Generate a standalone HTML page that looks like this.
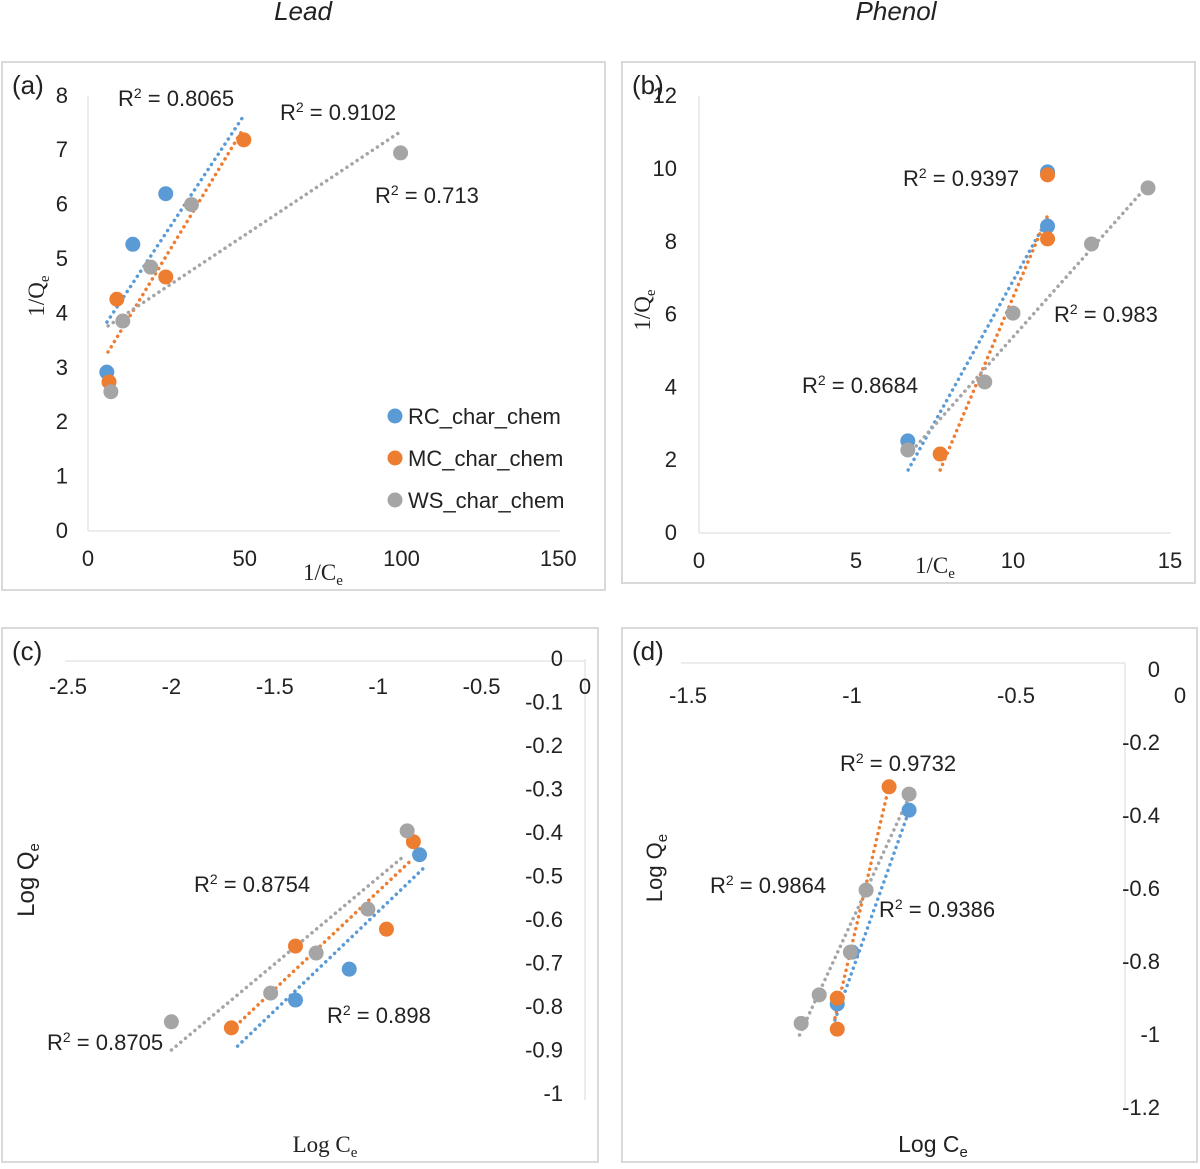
<!DOCTYPE html>
<html><head><meta charset="utf-8"><style>
body{margin:0;background:#fff}
svg text{fill:#222}
</style></head><body>
<svg id="c" width="1200" height="1164" viewBox="0 0 1200 1164" style="font-family:'Liberation Sans',Arial,sans-serif">
<text x="303" y="20" font-size="26" font-style="italic" text-anchor="middle">Lead</text>
<text x="896" y="20" font-size="26" font-style="italic" text-anchor="middle">Phenol</text>
</svg>
<script>
const colors=['#5b9bd5','#ed7d31','#a5a5a5'];
const seriesNames=['RC_char_chem','MC_char_chem','WS_char_chem'];
// Panel a
const aRCx=[6,14.3,24.8], aRCy=[2.92,5.27,6.2];
const aMCx=[6.7,9.2,24.8,49.7], aMCy=[2.74,4.26,4.67,7.19];
const aWSx=[7.3,11.1,20,33,99.7], aWSy=[2.56,3.86,4.85,6.0,6.95];
const aFits=[[6.05,3.84,49.4,7.61],[6.4,3.29,49.7,7.41],[6.4,3.77,99.4,7.33]];
const aXTicks=[0,50,100,150], aYTicks=[0,1,2,3,4,5,6,7,8];
// Panel b
const bRCx=[6.65,11.1,11.1], bRCy=[2.53,8.43,9.92];
const bMCx=[7.68,11.1,11.1], bMCy=[2.17,8.08,9.84];
const bWSx=[6.65,9.1,10,12.5,14.3], bWSy=[2.28,4.15,6.04,7.94,9.48];
const bFits=[[6.66,1.73,11.11,8.65],[7.68,1.73,11.11,8.74],[6.66,2.14,14.3,9.56]];
const bXTicks=[0,5,10,15], bYTicks=[0,2,4,6,8,10,12];
// Panel c
const cRCx=[-1.40,-1.14,-0.80], cRCy=[-0.784,-0.713,-0.45];
const cMCx=[-1.71,-1.40,-0.96,-0.83], cMCy=[-0.848,-0.660,-0.621,-0.42];
const cWSx=[-2.0,-1.52,-1.30,-1.05,-0.86], cWSy=[-0.834,-0.768,-0.676,-0.575,-0.395];
const cFits=[[-1.68,-0.890,-0.77,-0.476],[-1.71,-0.853,-0.85,-0.467],[-2.0,-0.899,-0.87,-0.451]];
const cXTicks=[-2.5,-2,-1.5,-1,-0.5,0], cYTicks=[0,-0.1,-0.2,-0.3,-0.4,-0.5,-0.6,-0.7,-0.8,-0.9,-1];
// Panel d
const dRCx=[-1.045,-1.0,-0.826], dRCy=[-0.915,-0.773,-0.384];
const dMCx=[-1.045,-1.045,-0.887], dMCy=[-0.899,-0.984,-0.32];
const dWSx=[-1.155,-1.1,-1.005,-0.957,-0.826], dWSy=[-0.968,-0.89,-0.773,-0.603,-0.34];
const dFits=[[-1.052,-0.959,-0.823,-0.378],[-1.052,-0.953,-0.89,-0.329],[-1.16,-1.0,-0.823,-0.342]];
const dXTicks=[-1.5,-1,-0.5,0], dYTicks=[0,-0.2,-0.4,-0.6,-0.8,-1,-1.2];

const svg=document.getElementById('c');
const NS='http://www.w3.org/2000/svg';
function mk(tag,attrs,parent){const e=document.createElementNS(NS,tag);for(const k in attrs)e.setAttribute(k,attrs[k]);(parent||svg).appendChild(e);return e;}
function txt(x,y,s,size,anchor,parent){const t=mk('text',{x:x,y:y,'font-size':size,'text-anchor':anchor||'middle'},parent);t.textContent=s;return t;}
function r2(x,y,val,parent){const t=mk('text',{x:x,y:y,'font-size':22},parent);t.innerHTML='R<tspan dy="-8" font-size="14">2</tspan><tspan dy="8"> = '+val+'</tspan>';

}

function panel(o){
  const g=mk('g',{});
  
  
  const fr=mk('rect',{x:o.box[0],y:o.box[1],width:o.box[2],height:o.box[3],fill:'#fff',stroke:'#d9d9d9','stroke-width':2},g);
  
  
  const X=v=>o.x0+(v-o.xv0)*o.xs, Y=v=>o.y0-(v-o.yv0)*o.ys;
  mk('line',{x1:o.axX[0],y1:o.axX[1],x2:o.axX[2],y2:o.axX[1],stroke:'#e6e6e6','stroke-width':1.5},g);
  mk('line',{x1:o.axY[0],y1:o.axY[1],x2:o.axY[0],y2:o.axY[2],stroke:'#e6e6e6','stroke-width':1.5},g);
  o.xt.forEach(v=>{const t=txt(X(v),o.xly,String(v),22,'middle',g);
    
    });
  o.yt.forEach(v=>{const t=txt(o.ylx,Y(v)+7,String(v),22,'end',g);
    
    });
  o.fits.forEach((f,i)=>{const l=mk('line',{x1:X(f[0]),y1:Y(f[1]),x2:X(f[2]),y2:Y(f[3]),stroke:colors[i],'stroke-width':3.5,'stroke-dasharray':'0.1 6','stroke-linecap':'round'},g);
    
    });
  [[o.s[0],o.s[1]],[o.s[2],o.s[3]],[o.s[4],o.s[5]]].forEach((s,i)=>{
    s[0].forEach((xv,j)=>{const c=mk('circle',{cx:X(xv),cy:Y(s[1][j]),r:7.5,fill:colors[i]},g);
      
      });
  });
  o.r2.forEach(r=>r2(r[0],r[1],r[2],g));
  const pl=txt(o.box[0]+10,o.box[1]+32,o.label,26,'start',g);
  
  
  return g;
}

panel({name:'panel-a',box:[2,62,603,528],label:'(a)',x0:88,xv0:0,xs:3.135,y0:531,yv0:0,ys:54.4,
  axX:[88,531,560],axY:[88,96,531],xt:aXTicks,yt:aYTicks,xly:566,ylx:68,fits:aFits,
  s:[aRCx,aRCy,aMCx,aMCy,aWSx,aWSy],r2:[[118,106,'0.8065'],[280,120,'0.9102'],[375,203,'0.713']]});
panel({name:'panel-b',box:[622,62,573,521],label:'(b)',x0:699,xv0:0,xs:31.4,y0:533,yv0:0,ys:36.4,
  axX:[699,533,1171],axY:[699,96,533],xt:bXTicks,yt:bYTicks,xly:568,ylx:677,fits:bFits,
  s:[bRCx,bRCy,bMCx,bMCy,bWSx,bWSy],r2:[[903,186,'0.9397'],[1054,322,'0.983'],[802,393,'0.8684']]});
panel({name:'panel-c',box:[2,628,596,534],label:'(c)',x0:585,xv0:0,xs:206.8,y0:659,yv0:0,ys:435,
  axX:[65,661,585],axY:[585,659,1100],xt:cXTicks,yt:cYTicks,xly:694,ylx:563,fits:cFits,
  s:[cRCx,cRCy,cMCx,cMCy,cWSx,cWSy],r2:[[194,892,'0.8754'],[327,1023,'0.898'],[47,1050,'0.8705']]});
panel({name:'panel-d',box:[622,628,575,534],label:'(d)',x0:1180,xv0:0,xs:328,y0:670,yv0:0,ys:365,
  axX:[681,663,1125],axY:[1125,663,1110],xt:dXTicks,yt:dYTicks,xly:703,ylx:1160,fits:dFits,
  s:[dRCx,dRCy,dMCx,dMCy,dWSx,dWSy],r2:[[840,771,'0.9732'],[710,893,'0.9864'],[879,917,'0.9386']]});

function at(x,y,html,rot,font,size,name){const t=mk('text',{x:x,y:y,'font-size':size,'text-anchor':'middle',style:'font-family:'+font});
  if(rot)t.setAttribute('transform','rotate(-90 '+x+' '+y+')');t.innerHTML=html;
  
  }
const serif="'Liberation Serif',serif";
const sans="'Liberation Sans',sans-serif";
at(323,580,'1/C<tspan font-size="15" dy="5">e</tspan>',0,serif,23,'x-axis-title-a');
at(935,573,'1/C<tspan font-size="15" dy="5">e</tspan>',0,serif,23,'x-axis-title-b');
at(44,296,'1/Q<tspan font-size="15" dy="5">e</tspan>',1,serif,23,'y-axis-title-a');
at(650,310,'1/Q<tspan font-size="15" dy="5">e</tspan>',1,serif,23,'y-axis-title-b');
at(325,1152,'Log C<tspan font-size="15" dy="5">e</tspan>',0,serif,23,'x-axis-title-c');
at(933,1152,'Log C<tspan font-size="15" dy="5">e</tspan>',0,sans,23,'x-axis-title-d');
at(34,880,'Log Q<tspan font-size="15" dy="5">e</tspan>',1,sans,24,'y-axis-title-c');
at(662,868,'Log Q<tspan font-size="15" dy="5">e</tspan>',1,sans,22,'y-axis-title-d');

seriesNames.forEach((n,i)=>{
  const y=416+i*42;
  const c=mk('circle',{cx:395,cy:y,r:7.5,fill:colors[i]});
  
  
  const t=txt(408,y+8,n,22,'start');
  
  
});
</script>
</body></html>
